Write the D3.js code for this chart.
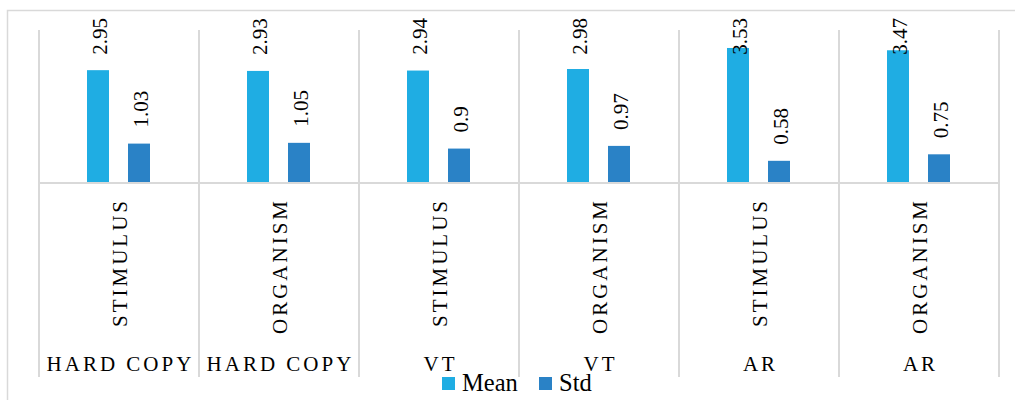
<!DOCTYPE html>
<html>
<head>
<meta charset="utf-8">
<script src="https://cdn.jsdelivr.net/npm/d3@7/dist/d3.min.js"></script>
<style>
  html, body { margin: 0; padding: 0; background: #fff; }
  svg { display: block; }
  text {
    font-family: "Liberation Serif", "Times New Roman", serif; fill: #000;
    font-kerning: none; font-feature-settings: "kern" 0; text-rendering: optimizeSpeed;
  }
</style>
</head>
<body>
<svg id="chart" width="1015" height="400"></svg>
<script>
// Two-level categories: format (outer) and construct (inner)
const groups = ["HARD COPY", "HARD COPY", "VT", "VT", "AR", "AR"];
const constructs = ["STIMULUS", "ORGANISM", "STIMULUS", "ORGANISM", "STIMULUS", "ORGANISM"];
const series = ["Mean", "Std"];
const meanValues = [2.95, 2.93, 2.94, 2.98, 3.53, 3.47];
const stdValues = [1.03, 1.05, 0.9, 0.97, 0.58, 0.75];
const colors = ["#1fade3", "#2a82c6"];

const rows = groups.map((g, i) => ({
  i, group: g, construct: constructs[i],
  values: [meanValues[i], stdValues[i]]
}));

const svg = d3.select("#chart");
const gridColor = "#d9d9d9";

// chart area frame
svg.append("rect")
  .attr("x", 7.5).attr("y", 10.5)
  .attr("width", 1100).attr("height", 500)
  .attr("fill", "none").attr("stroke", gridColor).attr("stroke-width", 1.5);

const plotLeft = 39, plotRight = 999, plotTop = 30, baseY = 183, axisBottom = 377;

const x0 = d3.scaleBand().domain(rows.map(d => d.i)).range([plotLeft, plotRight]).padding(0);
const x1 = d3.scaleBand().domain(series).range([48, 111]).paddingInner(19 / 41).paddingOuter(0);
const y = d3.scaleLinear().domain([0, 4]).range([baseY, plotTop]);

// category boundary lines, through the plot and the label area
const bounds = rows.map(d => x0(d.i)).concat([plotRight]);
svg.append("g").selectAll("line").data(bounds).join("line")
  .attr("x1", d => d).attr("x2", d => d)
  .attr("y1", plotTop).attr("y2", axisBottom)
  .attr("stroke", gridColor).attr("stroke-width", 2);

// bars
const cat = svg.append("g").selectAll("g").data(rows).join("g")
  .attr("transform", d => `translate(${x0(d.i)},0)`);

cat.selectAll("rect").data(d => d.values.map((v, k) => ({ k, v, s: series[k] }))).join("rect")
  .attr("x", d => x1(d.s))
  .attr("y", d => y(d.v))
  .attr("width", x1.bandwidth())
  .attr("height", d => baseY - y(d.v))
  .attr("fill", d => colors[d.k]);

// value labels, rotated; kept inside the chart top edge
cat.selectAll("text.val").data(d => d.values.map((v, k) => ({ k, v, s: series[k] }))).join("text")
  .attr("class", "val")
  .attr("font-size", 21)
  .text(d => d.v)
  .each(function (d) {
    const len = this.getComputedTextLength();
    const cx = x1(d.s) + x1.bandwidth() / 2;
    const end = Math.max(y(d.v) - 16, 18 + len);
    d3.select(this).attr("transform", `translate(${cx + 8.5},${end}) rotate(-90)`);
  });

// x axis baseline
svg.append("line")
  .attr("x1", plotLeft).attr("x2", plotRight)
  .attr("y1", baseY).attr("y2", baseY)
  .attr("stroke", gridColor).attr("stroke-width", 2);

// inner category labels (rotated)
svg.append("g").selectAll("text").data(rows).join("text")
  .attr("font-size", 21)
  .attr("letter-spacing", 3)
  .attr("text-anchor", "end")
  .attr("transform", d => `translate(${x0(d.i) + x0.bandwidth() / 2 + 7.5},${198}) rotate(-90)`)
  .text(d => d.construct);

// outer category labels
svg.append("g").selectAll("text").data(rows).join("text")
  .attr("font-size", 21)
  .attr("letter-spacing", 3)
  .attr("text-anchor", "middle")
  .attr("x", d => x0(d.i) + x0.bandwidth() / 2 + 1.5)
  .attr("y", 371)
  .text(d => d.group);

// legend
const legendX = [442, 539];
const legend = svg.append("g").selectAll("g").data(series).join("g")
  .attr("transform", (d, k) => `translate(${legendX[k]},377)`);
legend.append("rect").attr("width", 13).attr("height", 13).attr("fill", (d, k) => colors[k]);
legend.append("text").attr("x", 20).attr("y", 14).attr("font-size", 24.5).text(d => d);
</script>
</body>
</html>
